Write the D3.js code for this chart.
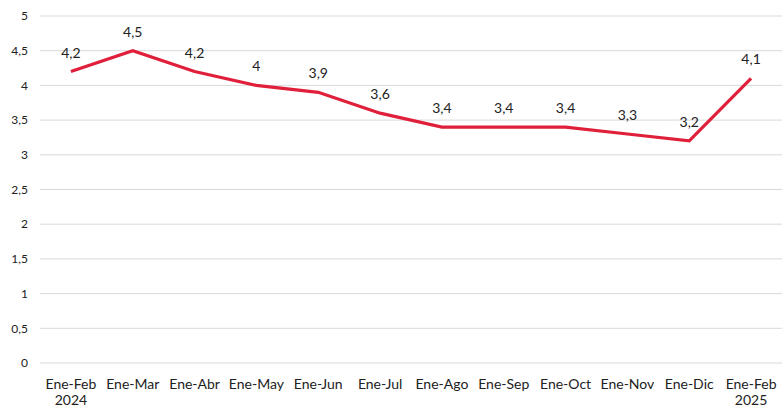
<!DOCTYPE html>
<html>
<head>
<meta charset="utf-8">
<script src="https://cdn.jsdelivr.net/npm/d3@7"></script>
<style>
  body { margin: 0; background: #fff; }
  text { font-family: Lato, "Open Sans", sans-serif; fill: #222; }
</style>
</head>
<body>
<div id="chart"></div>
<script>
const categories = ["Ene-Feb", "Ene-Mar", "Ene-Abr", "Ene-May", "Ene-Jun", "Ene-Jul",
    "Ene-Ago", "Ene-Sep", "Ene-Oct", "Ene-Nov", "Ene-Dic", "Ene-Feb "];
const values = [4.2, 4.5, 4.2, 4.0, 3.9, 3.6, 3.4, 3.4, 3.4, 3.3, 3.2, 4.1];
const yearLabels = ["2024", "", "", "", "", "", "", "", "", "", "", "2025"];
const yTicks = [0, 0.5, 1, 1.5, 2, 2.5, 3, 3.5, 4, 4.5, 5];

const width = 782, height = 408;
const margin = { top: 16, right: 0, bottom: 45, left: 40 };
const fmt = v => String(v).replace(".", ",");

const svg = d3.select("#chart").append("svg")
    .attr("width", width)
    .attr("height", height);

const plot = svg.append("g")
    .attr("transform", `translate(${margin.left},${margin.top})`);

const w = width - margin.left - margin.right;
const h = height - margin.top - margin.bottom;

const x = d3.scaleBand().domain(categories).range([0, w]);
const y = d3.scaleLinear().domain([0, 5]).range([h, 0]);

// grid lines
plot.append("g")
    .selectAll("line")
    .data(yTicks)
    .join("line")
    .attr("x1", 0).attr("x2", w)
    .attr("y1", d => y(d)).attr("y2", d => y(d))
    .attr("stroke", "#d9d9d9")
    .attr("stroke-width", 1);

// y labels
plot.append("g")
    .selectAll("text")
    .data(yTicks)
    .join("text")
    .attr("x", -12)
    .attr("y", d => y(d))
    .attr("dy", "0.35em")
    .attr("text-anchor", "end")
    .attr("font-size", 12)
    .text(fmt);

// x labels
const xl = plot.append("g")
    .selectAll("g")
    .data(categories)
    .join("g")
    .attr("transform", d => `translate(${x(d) + x.bandwidth() / 2},${h})`);

xl.append("text")
    .attr("y", 26)
    .attr("text-anchor", "middle")
    .attr("font-size", 14)
    .text(d => d.trim());

xl.append("text")
    .attr("y", 42)
    .attr("text-anchor", "middle")
    .attr("font-size", 14)
    .text((d, i) => yearLabels[i]);

// line
const line = d3.line()
    .x((d, i) => x(categories[i]) + x.bandwidth() / 2)
    .y(d => y(d));

plot.append("path")
    .datum(values)
    .attr("fill", "none")
    .attr("stroke", "#e0203a")
    .attr("stroke-width", 3.2)
    .attr("stroke-linejoin", "miter")
    .attr("d", line);

// data labels
plot.append("g")
    .selectAll("text")
    .data(values)
    .join("text")
    .attr("x", (d, i) => x(categories[i]) + x.bandwidth() / 2)
    .attr("y", d => y(d) - 14)
    .attr("text-anchor", "middle")
    .attr("font-size", 14)
    .text(fmt);
</script>
</body>
</html>
